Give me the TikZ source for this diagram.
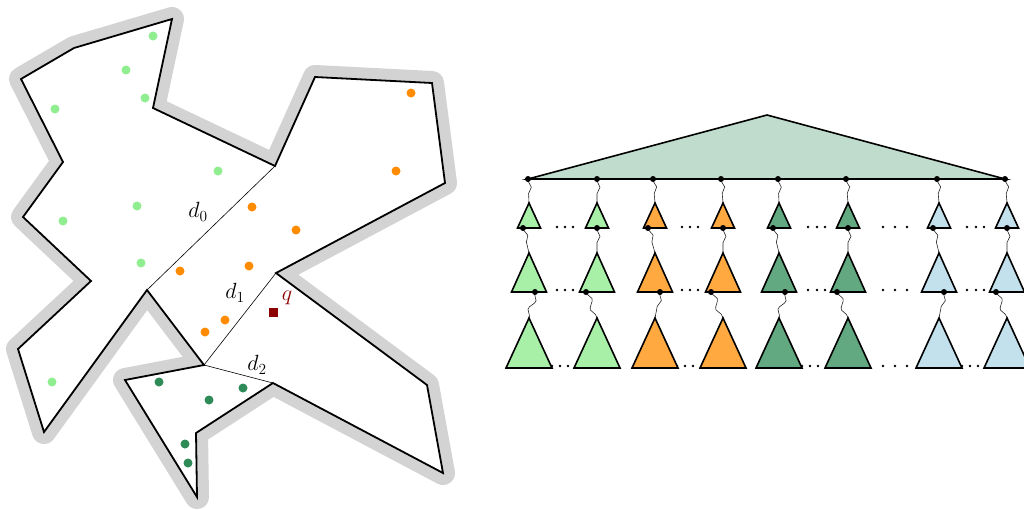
\documentclass[tikz,border=0pt]{standalone}
\usepackage{fix-cm}
\usetikzlibrary{decorations.pathmorphing,calc}
\definecolor{ptlgreen}{HTML}{90EE90}
\definecolor{ptorange}{HTML}{FF8C00}
\definecolor{ptdgreen}{HTML}{2E8B57}
\definecolor{shade}{HTML}{D3D3D3}
\definecolor{topfill}{HTML}{BFDCCC}
\definecolor{tlgreen}{HTML}{A8F0A8}
\definecolor{torange}{HTML}{FFA940}
\definecolor{tdgreen}{HTML}{62A881}
\definecolor{tblue}{HTML}{C2E1EC}
\definecolor{qred}{HTML}{8B0000}
\begin{document}
\begin{tikzpicture}[x=1pt,y=-1pt,
  outline/.style={fill=white,draw=black,line width=1.8pt,line join=miter,
    preaction={draw=shade,line width=24pt,line join=round}},
  diag/.style={line width=0.6pt},
  lbl/.style={font=\fontsize{22}{26}\selectfont,inner sep=0pt},
  tri/.style={draw=black,line width=1.6pt},
  wave/.style={decorate,decoration={snake,segment length=20pt,amplitude=3pt,pre length=2pt,post length=2pt},line width=0.6pt,draw=black!85},
  knot/.style={fill=black},
  ell/.style={fill=black}]
\useasboundingbox (0,0) rectangle (1024,509);

% ---- simple polygon with its gray halo ----
\coordinate (v1) at (172,19);
\coordinate (v2) at (153,108);
\coordinate (v3) at (275,166);
\coordinate (v4) at (315,77);
\coordinate (v5) at (432,83);
\coordinate (v6) at (445,183);
\coordinate (v7) at (276,273);
\coordinate (v8) at (427,385);
\coordinate (v9) at (443,473);
\coordinate (v10) at (273,383);
\coordinate (v11) at (196,433);
\coordinate (v12) at (197,497);
\coordinate (v13) at (125,380);
\coordinate (v14) at (204,365);
\coordinate (v15) at (147,290);
\coordinate (v16) at (44,432);
\coordinate (v17) at (18,349);
\coordinate (v18) at (91,281);
\coordinate (v19) at (23,217);
\coordinate (v20) at (63,162);
\coordinate (v21) at (21,79);
\coordinate (v22) at (74,48);
\path[outline] (v1) -- (v2) -- (v3) -- (v4) -- (v5) -- (v6) -- (v7) -- (v8) -- (v9) -- (v10)
  -- (v11) -- (v12) -- (v13) -- (v14) -- (v15) -- (v16) -- (v17) -- (v18) -- (v19) -- (v20)
  -- (v21) -- (v22) -- cycle;

% diagonals
\draw[diag] (v3) -- (v15);
\draw[diag] (v7) -- (v14);
\draw[diag] (v14) -- (v10);
\node[lbl] (l0) at (198,212) {$d_0$};
\node[lbl] (l1) at (235,293) {$d_1$};
\node[lbl] (l2) at (257,365) {$d_2$};

% sample points
\foreach \p in {(153,36),(126,70),(145,98),(55,109),(218,171),(137,206),(63,221),(141,263),(52,382)}
  \fill[ptlgreen] \p circle (4.5);
\foreach \p in {(411,93),(396,171),(252,207),(296,230),(180,271),(249,266),(225,320),(205,332)}
  \fill[ptorange] \p circle (4.5);
\foreach \p in {(159,382),(209,400),(243,388),(185,444),(188,463)}
  \fill[ptdgreen] \p circle (4.5);

% query point
\fill[qred] (268.5,307.5) rectangle (277.5,316.5);
\node[lbl,text=qred] (ql) at (287,298) {$q$};

% ---- tree of triangles ----
\coordinate (apex) at (767,115);
\coordinate (bl) at (528,179);
\coordinate (br) at (1005,179);
\draw[tri,fill=topfill] (bl) -- (apex) -- (br) -- cycle;

% dots in the lowest row, partly hidden by the triangles
\foreach \x in {552,560,568,677,685,693,802,810,818,962,970,978,883,895,907}
  \fill[ell] (\x,366) circle (1.4);
\foreach \x in {557,565,573,682,690,698,808,817,825,967,976,984,883,895,907}{
  \fill[ell] (\x,227) circle (1.4);
  \fill[ell] (\x,290) circle (1.4);
}

\foreach [count=\i] \tx/\cx/\px/\qx/\col in {528/529/523/535/tlgreen, 597/597/597/586/tlgreen,
    653/655/648/660/torange, 721/723/723/711/torange, 778/779/773/785/tdgreen,
    846/848/848/837/tdgreen, 937/939/933/944/tblue, 1005/1007/1007/996/tblue}{
  \coordinate (t\i) at (\tx,179);
  \coordinate (ra\i) at (\cx,203);
  \coordinate (rb\i) at (\px,228);
  \coordinate (sa\i) at (\cx,253);
  \coordinate (sb\i) at (\qx,292);
  \coordinate (ua\i) at (\cx,318);
  \draw[wave] (t\i) -- (ra\i);
  \draw[wave] (rb\i) -- (sa\i);
  \draw[wave] (sb\i) -- (ua\i);
  \draw[tri,fill=\col] ({\cx-11.5},228) -- (ra\i) -- ({\cx+11.5},228) -- cycle;
  \draw[tri,fill=\col] ({\cx-17.5},292) -- (sa\i) -- ({\cx+17.5},292) -- cycle;
  \draw[tri,fill=\col] ({\cx-23},368) -- (ua\i) -- ({\cx+23},368) -- cycle;
  \fill[knot] (t\i) circle (3);
  \fill[knot] (rb\i) circle (3);
  \fill[knot] (sb\i) circle (3);
}
\end{tikzpicture}
\end{document}
